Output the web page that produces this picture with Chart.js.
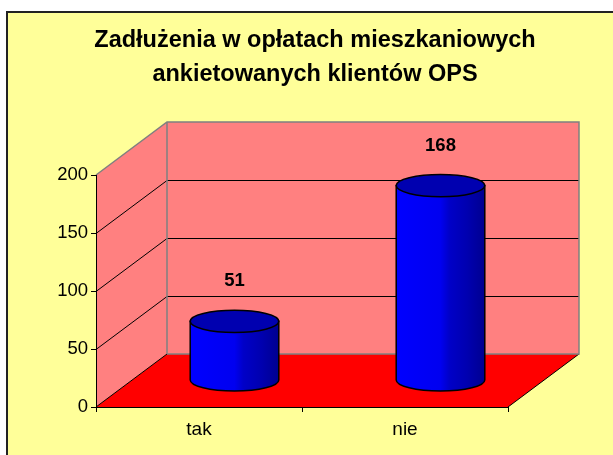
<!DOCTYPE html>
<html>
<head>
<meta charset="utf-8">
<script src="https://cdn.jsdelivr.net/npm/chart.js@4"></script>
<style>
  body { margin: 0; background: #ffffff; overflow: hidden; }
  #wrap { width: 613px; height: 455px; }
</style>
</head>
<body>
<div id="wrap"><canvas id="chart"></canvas></div>
<script>
// Data
const categories = ["tak", "nie"];
const values = [51, 168];
const yMin = 0;
const yMax = 200;
const yStep = 50;
const titleLines = ["Zadłużenia w opłatach mieszkaniowych", "ankietowanych klientów OPS"];

// 3D look
const DEPTH_X = 71;
const DEPTH_Y = -53;
const FONT = "Arial, 'Liberation Sans', sans-serif";

// Frame, walls, floor and grid (drawn before scales)
const wallsPlugin = {
  id: "walls",
  beforeDraw(chart) {
    const ctx = chart.ctx;
    const { left, right, top, bottom } = chart.chartArea;
    const y = chart.scales.y;

    ctx.save();
    // yellow frame
    ctx.fillStyle = "#ffff99";
    ctx.fillRect(7, 12, chart.width - 7, chart.height - 12);
    ctx.strokeStyle = "#222222";
    ctx.lineWidth = 2;
    ctx.beginPath();
    ctx.moveTo(7, chart.height);
    ctx.lineTo(7, 12);
    ctx.lineTo(chart.width, 12);
    ctx.stroke();

    // back wall
    ctx.fillStyle = "#ff8080";
    ctx.fillRect(left + DEPTH_X, top + DEPTH_Y, right - left, bottom - top);
    // side wall
    ctx.beginPath();
    ctx.moveTo(left, top);
    ctx.lineTo(left + DEPTH_X, top + DEPTH_Y);
    ctx.lineTo(left + DEPTH_X, bottom + DEPTH_Y);
    ctx.lineTo(left, bottom);
    ctx.closePath();
    ctx.fill();

    // floor
    ctx.fillStyle = "#ff0000";
    ctx.beginPath();
    ctx.moveTo(left, bottom);
    ctx.lineTo(right, bottom);
    ctx.lineTo(right + DEPTH_X, bottom + DEPTH_Y);
    ctx.lineTo(left + DEPTH_X, bottom + DEPTH_Y);
    ctx.closePath();
    ctx.fill();

    // grid lines
    ctx.lineWidth = 1;
    ctx.strokeStyle = "#000000";
    for (let v = yMin + yStep; v < yMax; v += yStep) {
      const py = Math.round(y.getPixelForValue(v)) + 0.5;
      ctx.beginPath();
      ctx.moveTo(left, py);
      ctx.lineTo(left + DEPTH_X, py + DEPTH_Y);
      ctx.lineTo(right + DEPTH_X, py + DEPTH_Y);
      ctx.stroke();
    }

    // floor edges
    ctx.beginPath();
    ctx.moveTo(left, bottom);
    ctx.lineTo(left + DEPTH_X, bottom + DEPTH_Y);
    ctx.moveTo(right, bottom);
    ctx.lineTo(right + DEPTH_X, bottom + DEPTH_Y);
    ctx.stroke();

    // wall outlines
    ctx.strokeStyle = "#808080";
    ctx.lineWidth = 1.5;
    ctx.beginPath();
    ctx.moveTo(left, top);
    ctx.lineTo(left + DEPTH_X, top + DEPTH_Y);
    ctx.lineTo(right + DEPTH_X, top + DEPTH_Y);
    ctx.lineTo(right + DEPTH_X, bottom + DEPTH_Y);
    ctx.lineTo(left + DEPTH_X, bottom + DEPTH_Y);
    ctx.moveTo(left + DEPTH_X, top + DEPTH_Y);
    ctx.lineTo(left + DEPTH_X, bottom + DEPTH_Y);
    ctx.stroke();
    ctx.restore();
  },
};

// Cylinders and value labels
const cylinderPlugin = {
  id: "cylinders",
  afterDatasetsDraw(chart) {
    const ctx = chart.ctx;
    const meta = chart.getDatasetMeta(0);
    ctx.save();
    meta.data.forEach((bar, i) => {
      const cx = bar.x + DEPTH_X / 2;
      const yTop = bar.y + DEPTH_Y / 2;
      const yBase = bar.base + DEPTH_Y / 2;
      const rx = bar.width / 2;
      const ry = rx * 0.25;

      // body
      const grad = ctx.createLinearGradient(cx - rx, 0, cx + rx, 0);
      grad.addColorStop(0, "#0000ff");
      grad.addColorStop(0.5, "#0000f0");
      grad.addColorStop(0.6, "#0000c8");
      grad.addColorStop(0.8, "#0000b0");
      grad.addColorStop(1, "#000090");
      ctx.fillStyle = grad;
      ctx.strokeStyle = "#000000";
      ctx.lineWidth = 1.5;
      ctx.beginPath();
      ctx.moveTo(cx - rx, yTop);
      ctx.lineTo(cx - rx, yBase);
      ctx.ellipse(cx, yBase, rx, ry, 0, Math.PI, 0, true);
      ctx.lineTo(cx + rx, yTop);
      ctx.closePath();
      ctx.fill();
      ctx.stroke();

      // top
      ctx.fillStyle = "#0000b0";
      ctx.beginPath();
      ctx.ellipse(cx, yTop, rx, ry, 0, 0, Math.PI * 2);
      ctx.fill();
      ctx.stroke();

      // value label
      ctx.fillStyle = "#000000";
      ctx.font = "bold 18.5px " + FONT;
      ctx.textAlign = "center";
      ctx.textBaseline = "middle";
      ctx.fillText(String(values[i]), cx, yTop - 40);
    });
    ctx.restore();
  },
};

new Chart(document.getElementById("chart"), {
  type: "bar",
  data: {
    labels: categories,
    datasets: [
      {
        data: values,
        backgroundColor: "rgba(0,0,0,0)",
        borderWidth: 0,
        barPercentage: 0.43,
        categoryPercentage: 1,
      },
    ],
  },
  options: {
    responsive: true,
    maintainAspectRatio: false,
    animation: false,
    layout: { padding: { left: 17, right: 0, top: 0, bottom: 0 } },
    plugins: {
      legend: { display: false },
      tooltip: { enabled: false },
      title: {
        display: true,
        text: titleLines,
        color: "#000000",
        font: { family: FONT, size: 23.5, weight: "bold", lineHeight: "34px" },
        padding: { top: 24, bottom: 83 },
      },
    },
    scales: {
      x: {
        afterFit: (scale) => { scale.height = 48; },
        grid: { drawOnChartArea: false, tickLength: 5, color: "#000000", offset: true },
        border: { display: true, color: "#000000", width: 1 },
        ticks: { color: "#000000", font: { family: FONT, size: 19 }, padding: 6 },
      },
      y: {
        min: yMin,
        max: yMax,
        afterFit: (scale) => { scale.width = 79; },
        grid: { drawOnChartArea: false, tickLength: 5, color: "#000000" },
        border: { display: true, color: "#000000", width: 1 },
        ticks: { stepSize: yStep, color: "#000000", font: { family: FONT, size: 18.5 }, padding: 3 },
      },
      // empty space on the right of the plot
      side: {
        type: "linear",
        position: "right",
        display: true,
        afterFit: (scale) => { scale.width = 105; },
        grid: { display: false },
        border: { display: false },
        ticks: { display: false },
      },
    },
  },
  plugins: [wallsPlugin, cylinderPlugin],
});
</script>
</body>
</html>
